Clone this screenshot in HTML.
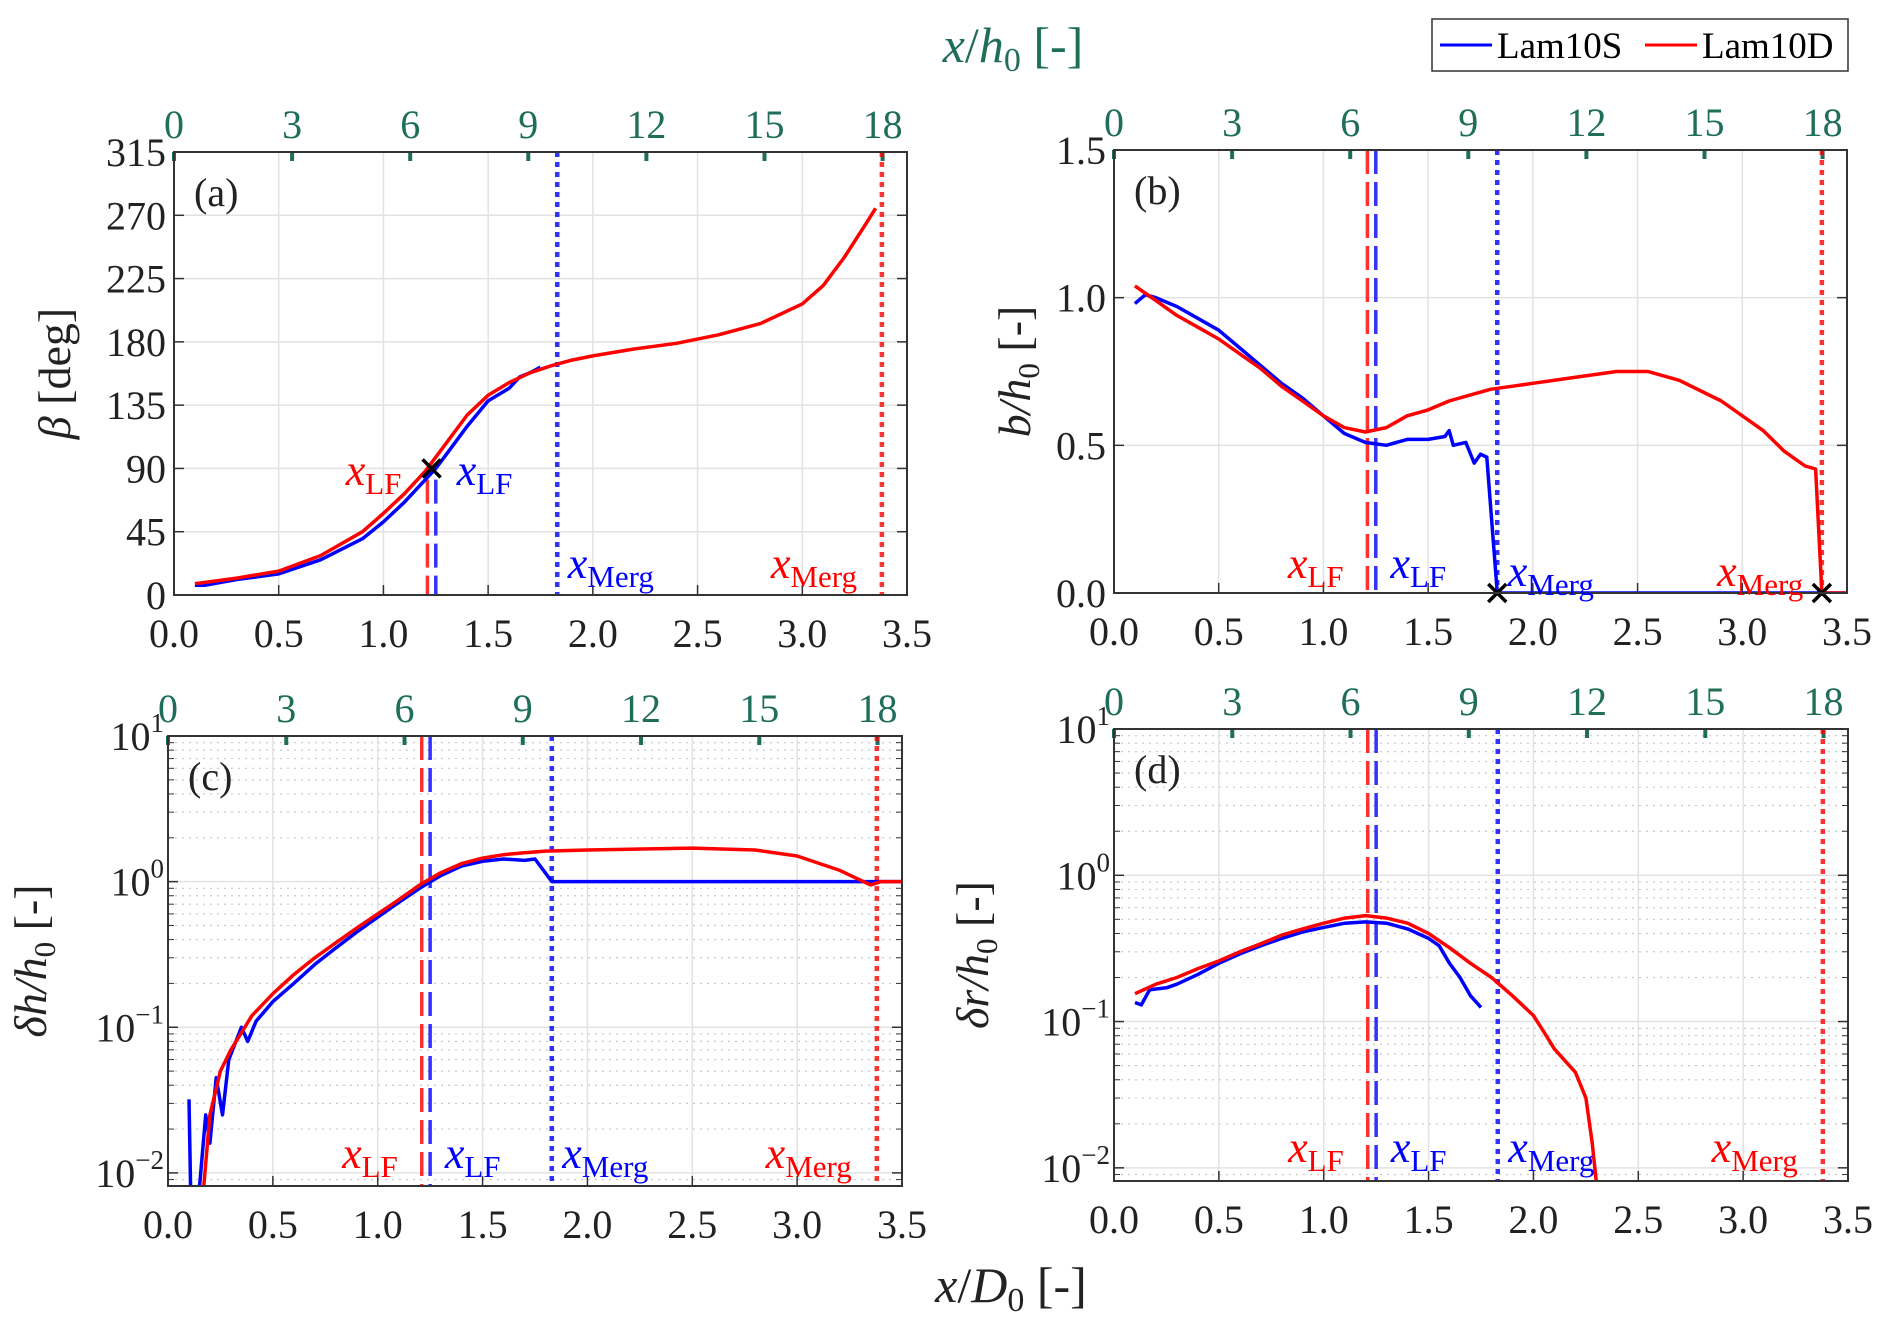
<!DOCTYPE html>
<html><head><meta charset="utf-8"><style>
body{margin:0;background:#fff}
svg text{font-family:"Liberation Serif",serif}
</style></head><body>
<svg id="fig" xmlns="http://www.w3.org/2000/svg" width="1892" height="1327" viewBox="0 0 1892 1327">
<rect width="1892" height="1327" fill="#fff"/>
<text x="1013" y="62" font-size="50" fill="#1f6e5a" text-anchor="middle"><tspan font-style="italic">x</tspan>/<tspan font-style="italic">h</tspan><tspan font-size="34" dy="9">0</tspan><tspan dy="-9"> [-]</tspan></text>
<text x="1011" y="1302" font-size="50" fill="#222" text-anchor="middle"><tspan font-style="italic">x</tspan>/<tspan font-style="italic">D</tspan><tspan font-size="34" dy="9">0</tspan><tspan dy="-9"> [-]</tspan></text>
<g>
<rect x="1432" y="19" width="416" height="52" fill="#fff" stroke="#333" stroke-width="1.5"/>
<line x1="1440" y1="45" x2="1492" y2="45" stroke="#0000ff" stroke-width="3"/>
<text x="1497" y="58" font-size="37">Lam10S</text>
<line x1="1645" y1="45" x2="1697" y2="45" stroke="#ff0000" stroke-width="3"/>
<text x="1702" y="58" font-size="37">Lam10D</text>
</g>
</svg>
<script>
// ---- data (x in x/D0) ----
const aRedX=[0.1,0.3,0.5,0.7,0.9,1.0,1.1,1.2,1.3,1.4,1.5,1.6,1.7,1.8,1.9,2.0,2.2,2.4,2.6,2.8,3.0,3.1,3.2,3.3,3.35];
const aRedY=[8,12,17,28,45,58,72,88,108,128,142,151,158,163,167,170,175,179,185,193,207,220,240,263,275];
const aBlueX=[0.1,0.15,0.3,0.5,0.7,0.9,1.0,1.1,1.2,1.25,1.3,1.4,1.5,1.6,1.65,1.7,1.75];
const aBlueY=[7,7,11,15,25,40,52,66,82,90,100,120,138,147,155,158,162];
const bRedX=[0.1,0.2,0.3,0.4,0.5,0.6,0.7,0.8,0.9,1.0,1.1,1.2,1.3,1.4,1.5,1.6,1.7,1.8,1.9,2.0,2.2,2.4,2.55,2.7,2.9,3.1,3.2,3.3,3.35,3.38,3.5];
const bRedY=[1.04,0.99,0.94,0.9,0.86,0.81,0.76,0.7,0.65,0.6,0.56,0.545,0.56,0.6,0.62,0.65,0.67,0.69,0.7,0.71,0.73,0.75,0.75,0.72,0.65,0.55,0.48,0.43,0.42,0,0];
const bBlueX=[0.1,0.15,0.2,0.3,0.4,0.5,0.6,0.7,0.8,0.9,1.0,1.1,1.2,1.3,1.4,1.5,1.58,1.6,1.62,1.68,1.72,1.75,1.78,1.83,3.5];
const bBlueY=[0.98,1.01,1.0,0.97,0.93,0.89,0.83,0.77,0.71,0.66,0.6,0.54,0.51,0.5,0.52,0.52,0.53,0.55,0.5,0.51,0.44,0.47,0.46,0,0];
const cRedX=[0.17,0.2,0.25,0.3,0.4,0.5,0.6,0.7,0.8,0.9,1.0,1.1,1.2,1.3,1.4,1.5,1.6,1.7,1.8,2.0,2.5,2.8,3.0,3.2,3.35,3.4,3.5];
const cRedY=[0.008,0.025,0.05,0.07,0.12,0.17,0.23,0.3,0.38,0.48,0.6,0.75,0.95,1.15,1.33,1.45,1.53,1.58,1.62,1.65,1.7,1.65,1.5,1.2,0.95,1.0,1.0];
const cBlueX=[0.1,0.11,0.15,0.18,0.2,0.23,0.26,0.29,0.35,0.38,0.42,0.5,0.6,0.7,0.8,0.9,1.0,1.1,1.2,1.3,1.4,1.5,1.6,1.7,1.75,1.83,3.5];
const cBlueY=[0.032,0.005,0.008,0.025,0.016,0.045,0.025,0.06,0.1,0.08,0.11,0.15,0.2,0.27,0.35,0.45,0.57,0.72,0.9,1.1,1.28,1.38,1.43,1.4,1.43,1.0,1.0];
const dRedX=[0.1,0.2,0.3,0.4,0.5,0.6,0.7,0.8,0.9,1.0,1.1,1.2,1.3,1.4,1.5,1.6,1.7,1.8,1.9,2.0,2.05,2.1,2.2,2.25,2.28,2.3];
const dRedY=[0.155,0.18,0.2,0.23,0.26,0.3,0.34,0.39,0.43,0.47,0.51,0.53,0.51,0.47,0.4,0.32,0.25,0.2,0.15,0.11,0.085,0.065,0.045,0.03,0.015,0.008];
const dBlueX=[0.1,0.13,0.17,0.25,0.3,0.4,0.5,0.6,0.7,0.8,0.9,1.0,1.1,1.2,1.3,1.4,1.5,1.55,1.6,1.65,1.7,1.75];
const dBlueY=[0.135,0.13,0.165,0.17,0.18,0.21,0.25,0.29,0.33,0.37,0.41,0.44,0.47,0.48,0.47,0.43,0.37,0.33,0.25,0.2,0.15,0.125];
const xTicks=[0,0.5,1,1.5,2,2.5,3,3.5];
const xTickLabels=["0.0","0.5","1.0","1.5","2.0","2.5","3.0","3.5"];
const topTicks=[0,3,6,9,12,15,18];
const aYTicks=[0,45,90,135,180,225,270,315];
const bYTicks=[0,0.5,1,1.5];
const bYTickLabels=["0.0","0.5","1.0","1.5"];
const logTicks=[-2,-1,0,1];
const lfRed=1.21, lfBlue=1.25, mergBlue=1.83, mergRed=3.38;
const hRatio=5.32; // x/h0 per x/D0

const NS="http://www.w3.org/2000/svg";
const svg=document.getElementById('fig');
function mk(tag,at,parent){const e=document.createElementNS(NS,tag);for(const k in at)e.setAttribute(k,at[k]);(parent||svg).appendChild(e);return e;}

function panel(p){
  const g=mk('g',{});
  
  
  const X=v=>p.x0+(v-0)/3.5*(p.x1-p.x0);
  const Y=p.log?(v=>p.y1-(Math.log10(v)-p.ymin)/(p.ymax-p.ymin)*(p.y1-p.y0)):(v=>p.y1-(v-p.ymin)/(p.ymax-p.ymin)*(p.y1-p.y0));
  if(p.log){
    for(let d=-3;d<1;d++)for(let m=2;m<10;m++){const v=m*Math.pow(10,d);const yy=Y(v);if(yy<p.y0||yy>p.y1)continue;
      const l=mk('line',{x1:p.x0,x2:p.x1,y1:yy,y2:yy,stroke:'#c8c8c8','stroke-width':1.2,'stroke-dasharray':'2 5'},g);
      
      mk('line',{x1:p.x0,x2:p.x0+6,y1:yy,y2:yy,stroke:'#333','stroke-width':1},g);
      mk('line',{x1:p.x1,x2:p.x1-6,y1:yy,y2:yy,stroke:'#333','stroke-width':1},g);}
  }
  xTicks.forEach((t,i)=>{const xx=X(t);
    mk('line',{x1:xx,x2:xx,y1:p.y0,y2:p.y1,stroke:'#e2e2e2','stroke-width':1.5},g);
    mk('line',{x1:xx,x2:xx,y1:p.y1,y2:p.y1-10,stroke:'#333','stroke-width':1.5},g);
    const t2=mk('text',{x:xx,y:p.y1+52,'font-size':40,'text-anchor':'middle',fill:'#222'},g);
    
    t2.textContent=xTickLabels[i];});
  p.yticks.forEach((t,i)=>{const yy=p.log?Y(Math.pow(10,t)):Y(t);
    mk('line',{x1:p.x0,x2:p.x1,y1:yy,y2:yy,stroke:'#e2e2e2','stroke-width':1.5},g);
    mk('line',{x1:p.x0,x2:p.x0+10,y1:yy,y2:yy,stroke:'#333','stroke-width':1.5},g);
    mk('line',{x1:p.x1,x2:p.x1-10,y1:yy,y2:yy,stroke:'#333','stroke-width':1.5},g);
    const tl=mk('text',{x:p.x0-8,y:yy+14,'font-size':40,'text-anchor':'end',fill:'#222'},g);
    
    if(p.log){tl.textContent='10';const s=mk('tspan',{'font-size':27,dy:-18},tl);s.textContent=String(t).replace('-','\u2212');tl.setAttribute('x',p.x0-4);}
    else tl.textContent=p.ylabels?p.ylabels[i]:String(t);});
  topTicks.forEach(t=>{const xx=X(t/hRatio);
    mk('line',{x1:xx,x2:xx,y1:p.y0,y2:p.y0+9,stroke:'#1f6e5a','stroke-width':4},g);
    const tl=mk('text',{x:xx,y:p.y0-14,'font-size':40,'text-anchor':'middle',fill:'#1f6e5a'},g);
    
    tl.textContent=String(t);});
  const cp=mk('clipPath',{id:'cp'+p.id},g);mk('rect',{x:p.x0,y:p.y0,width:p.x1-p.x0,height:p.y1-p.y0},cp);
  const cg=mk('g',{'clip-path':'url(#cp'+p.id+')'},g);
  const vl=(x,c,dash,w,name,ytop)=>{const l=mk('line',{x1:X(x),x2:X(x),y1:ytop===undefined?p.y0:ytop,y2:p.y1,stroke:c,'stroke-width':w,'stroke-dasharray':dash,opacity:0.8},cg);
    };
  const lfTop=p.lfTop===undefined?p.y0:Y(p.lfTop);
  vl(lfRed,'#ff0000','24 8',3.5,'lf-line-lam10d',lfTop);
  vl(lfBlue,'#0000ff','24 8',3.5,'lf-line-lam10s',lfTop);
  vl(mergBlue,'#0000ff','5 5',4.5,'merg-line-lam10s');
  vl(mergRed,'#ff0000','5 5',4.5,'merg-line-lam10d');
  const line=(xs,ys,c,name)=>{const d=xs.map((x,i)=>(i?'L':'M')+X(x).toFixed(1)+','+Y(ys[i]).toFixed(1)).join('');
    const pa=mk('path',{d:d,fill:'none',stroke:c,'stroke-width':3.5,'stroke-linejoin':'round'},cg);
    };
  line(p.bx,p.by,'#0000ff','series-lam10s');
  line(p.rx,p.ry,'#ff0000','series-lam10d');
  (p.marks||[]).forEach(m=>{const cx=X(m[0]),cy=Y(m[1]);
    const mg=mk('g',{},g);
    mk('path',{d:`M${cx-9},${cy-9}L${cx+9},${cy+9}M${cx-9},${cy+9}L${cx+9},${cy-9}`,stroke:'#000','stroke-width':3.5},mg);});
  const bx=mk('rect',{x:p.x0,y:p.y0,width:p.x1-p.x0,height:p.y1-p.y0,fill:'none',stroke:'#333','stroke-width':2},g);
  
  const lab=(x,y,c,sub,name)=>{const t=mk('text',{x:X(x),y:y,'font-size':44,fill:c},g);
    
    const a=mk('tspan',{'font-style':'italic'},t);a.textContent='x';const b=mk('tspan',{'font-size':31,dy:9},t);b.textContent=sub;};
  p.labs.forEach(l=>lab(l[0],l[1],l[2],l[3],l[4]));
  const pl=mk('text',{x:p.x0+20,y:p.y0+54,'font-size':40,fill:'#222'},g);
  pl.textContent='('+p.id+')';
  const yt=mk('text',{x:p.ytx,y:(p.y0+p.y1)/2,'font-size':46,'text-anchor':'middle',fill:'#222',transform:`rotate(-90 ${p.ytx} ${(p.y0+p.y1)/2})`},g);
  
  p.ytitle(yt);
}
function frac(prefix){return t=>{const a=mk('tspan',{'font-style':'italic'},t);a.textContent=prefix+'/h';const s=mk('tspan',{'font-size':31,dy:9},t);s.textContent='0';const r=mk('tspan',{dy:-9},t);r.textContent=' [-]';};}

panel({id:'a',x0:174,x1:907,y0:152,y1:595,ymin:0,ymax:315,yticks:aYTicks,rx:aRedX,ry:aRedY,bx:aBlueX,by:aBlueY,lfTop:82,
  marks:[[1.23,90]],ytx:70,ytitle:t=>{const a=mk('tspan',{'font-style':'italic'},t);a.textContent='\u03b2';const r=mk('tspan',{},t);r.textContent=' [deg]';},
  labs:[[0.82,485,'#ff0000','LF','label-xlf-lam10d'],[1.35,485,'#0000ff','LF','label-xlf-lam10s'],[1.88,578,'#0000ff','Merg','label-xmerg-lam10s'],[2.85,578,'#ff0000','Merg','label-xmerg-lam10d']]});
panel({id:'b',x0:1114,x1:1847,y0:150,y1:593,ymin:0,ymax:1.5,yticks:bYTicks,ylabels:bYTickLabels,rx:bRedX,ry:bRedY,bx:bBlueX,by:bBlueY,
  marks:[[mergBlue,0],[mergRed,0]],ytx:1030,ytitle:frac('b'),
  labs:[[0.83,578,'#ff0000','LF','label-xlf-lam10d'],[1.32,578,'#0000ff','LF','label-xlf-lam10s'],[1.88,586,'#0000ff','Merg','label-xmerg-lam10s'],[2.88,586,'#ff0000','Merg','label-xmerg-lam10d']]});
panel({id:'c',x0:168,x1:902,y0:736,y1:1186,log:true,ymin:-2.09,ymax:1,yticks:logTicks,rx:cRedX,ry:cRedY,bx:cBlueX,by:cBlueY,ytx:46,ytitle:frac('\u03b4h'),
  labs:[[0.83,1168,'#ff0000','LF','label-xlf-lam10d'],[1.32,1168,'#0000ff','LF','label-xlf-lam10s'],[1.88,1168,'#0000ff','Merg','label-xmerg-lam10s'],[2.85,1168,'#ff0000','Merg','label-xmerg-lam10d']]});
panel({id:'d',x0:1114,x1:1848,y0:729,y1:1181,log:true,ymin:-2.09,ymax:1,yticks:logTicks,rx:dRedX,ry:dRedY,bx:dBlueX,by:dBlueY,ytx:988,ytitle:frac('\u03b4r'),
  labs:[[0.83,1162,'#ff0000','LF','label-xlf-lam10d'],[1.32,1162,'#0000ff','LF','label-xlf-lam10s'],[1.88,1162,'#0000ff','Merg','label-xmerg-lam10s'],[2.85,1162,'#ff0000','Merg','label-xmerg-lam10d']]});
</script>
</body></html>
